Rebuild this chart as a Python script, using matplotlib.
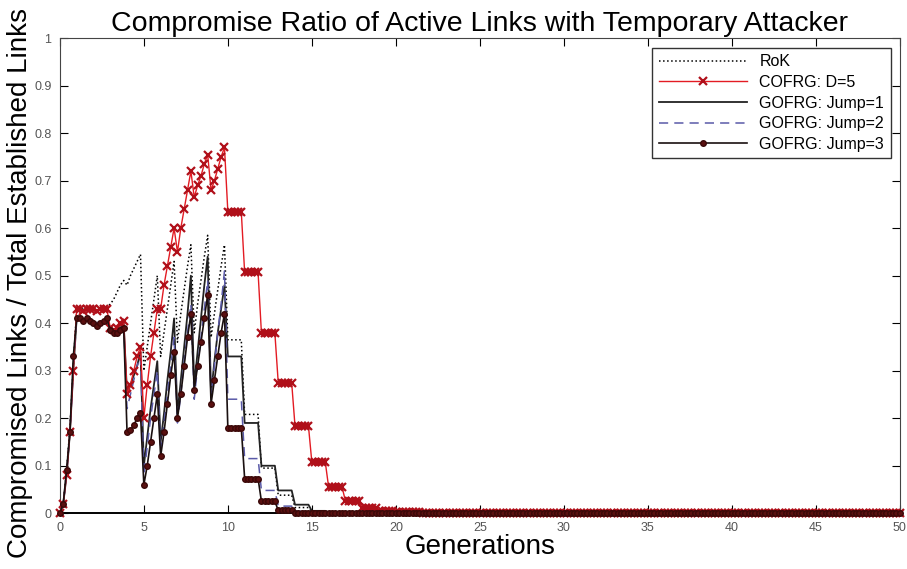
import numpy as np
import matplotlib.pyplot as plt

# one row per generation, samples every 0.2 generation (k.0, k.2, k.4, k.6, k.8)
step = 0.2
generations = np.round(np.arange(0, 50 + step / 2, step), 1)

rok = [
    [0.0, 0.02, 0.09, 0.18, 0.31],
    [0.43, 0.43, 0.43, 0.43, 0.43],
    [0.43, 0.43, 0.43, 0.43, 0.435],
    [0.44, 0.45, 0.465, 0.48, 0.49],
    [0.48, 0.50, 0.515, 0.53, 0.545],
    [0.30, 0.35, 0.40, 0.45, 0.50],
    [0.33, 0.38, 0.43, 0.48, 0.53],
    [0.36, 0.42, 0.47, 0.52, 0.565],
    [0.38, 0.44, 0.49, 0.54, 0.585],
    [0.37, 0.42, 0.47, 0.52, 0.565],
    [0.365, 0.365, 0.365, 0.365, 0.365],
    [0.208, 0.208, 0.208, 0.208, 0.208],
    [0.095, 0.095, 0.095, 0.095, 0.095],
    [0.038, 0.038, 0.038, 0.038, 0.038],
    [0.012, 0.012, 0.012, 0.012, 0.012],
    [0.003, 0.003, 0.003, 0.003, 0.003],
    [0.0, 0.0, 0.0, 0.0, 0.0],
    [0.0, 0.0, 0.0, 0.0, 0.0],
    [0.0, 0.0, 0.0, 0.0, 0.0],
    [0.0, 0.0, 0.0, 0.0, 0.0],
]

cofrg = [
    [0.0, 0.02, 0.08, 0.17, 0.30],
    [0.43, 0.43, 0.425, 0.43, 0.43],
    [0.43, 0.425, 0.43, 0.43, 0.43],
    [0.39, 0.385, 0.39, 0.40, 0.405],
    [0.25, 0.27, 0.30, 0.33, 0.35],
    [0.20, 0.27, 0.33, 0.38, 0.43],
    [0.43, 0.48, 0.52, 0.56, 0.60],
    [0.55, 0.60, 0.64, 0.68, 0.72],
    [0.665, 0.69, 0.71, 0.735, 0.755],
    [0.68, 0.70, 0.725, 0.75, 0.77],
    [0.635, 0.635, 0.635, 0.635, 0.635],
    [0.507, 0.507, 0.507, 0.507, 0.507],
    [0.379, 0.379, 0.379, 0.379, 0.379],
    [0.275, 0.275, 0.275, 0.275, 0.275],
    [0.183, 0.183, 0.183, 0.183, 0.183],
    [0.108, 0.108, 0.108, 0.108, 0.108],
    [0.055, 0.055, 0.055, 0.055, 0.055],
    [0.026, 0.026, 0.026, 0.026, 0.026],
    [0.012, 0.012, 0.012, 0.012, 0.012],
    [0.005, 0.005, 0.005, 0.005, 0.005],
]

jump1 = [
    [0.0, 0.02, 0.08, 0.17, 0.30],
    [0.41, 0.41, 0.405, 0.41, 0.41],
    [0.405, 0.40, 0.40, 0.405, 0.41],
    [0.385, 0.38, 0.385, 0.39, 0.40],
    [0.25, 0.27, 0.29, 0.31, 0.34],
    [0.10, 0.16, 0.22, 0.27, 0.32],
    [0.15, 0.21, 0.28, 0.34, 0.41],
    [0.21, 0.28, 0.35, 0.42, 0.50],
    [0.27, 0.34, 0.41, 0.48, 0.54],
    [0.25, 0.32, 0.38, 0.43, 0.48],
    [0.33, 0.33, 0.33, 0.33, 0.33],
    [0.19, 0.19, 0.19, 0.19, 0.19],
    [0.10, 0.10, 0.10, 0.10, 0.10],
    [0.048, 0.048, 0.048, 0.048, 0.048],
    [0.018, 0.018, 0.018, 0.018, 0.018],
    [0.005, 0.005, 0.005, 0.005, 0.005],
    [0.0, 0.0, 0.0, 0.0, 0.0],
    [0.0, 0.0, 0.0, 0.0, 0.0],
    [0.0, 0.0, 0.0, 0.0, 0.0],
    [0.0, 0.0, 0.0, 0.0, 0.0],
]

jump2 = [
    [0.0, 0.02, 0.08, 0.17, 0.30],
    [0.41, 0.41, 0.41, 0.405, 0.41],
    [0.40, 0.40, 0.405, 0.41, 0.41],
    [0.385, 0.38, 0.385, 0.39, 0.395],
    [0.22, 0.25, 0.28, 0.31, 0.33],
    [0.08, 0.14, 0.20, 0.25, 0.30],
    [0.13, 0.19, 0.25, 0.31, 0.37],
    [0.19, 0.25, 0.32, 0.38, 0.44],
    [0.24, 0.31, 0.37, 0.43, 0.49],
    [0.25, 0.31, 0.38, 0.44, 0.51],
    [0.24, 0.24, 0.24, 0.24, 0.24],
    [0.115, 0.115, 0.115, 0.115, 0.115],
    [0.048, 0.048, 0.048, 0.048, 0.048],
    [0.015, 0.015, 0.015, 0.015, 0.015],
    [0.004, 0.004, 0.004, 0.004, 0.004],
    [0.0, 0.0, 0.0, 0.0, 0.0],
    [0.0, 0.0, 0.0, 0.0, 0.0],
    [0.0, 0.0, 0.0, 0.0, 0.0],
    [0.0, 0.0, 0.0, 0.0, 0.0],
    [0.0, 0.0, 0.0, 0.0, 0.0],
]

jump3 = [
    [0.0, 0.02, 0.09, 0.17, 0.33],
    [0.41, 0.41, 0.405, 0.41, 0.405],
    [0.40, 0.395, 0.40, 0.405, 0.41],
    [0.385, 0.38, 0.38, 0.385, 0.39],
    [0.17, 0.175, 0.185, 0.20, 0.21],
    [0.06, 0.10, 0.15, 0.20, 0.25],
    [0.12, 0.17, 0.23, 0.29, 0.34],
    [0.20, 0.25, 0.31, 0.37, 0.42],
    [0.26, 0.31, 0.36, 0.41, 0.46],
    [0.23, 0.28, 0.33, 0.38, 0.42],
    [0.18, 0.18, 0.18, 0.18, 0.18],
    [0.073, 0.073, 0.073, 0.073, 0.073],
    [0.025, 0.025, 0.025, 0.025, 0.025],
    [0.006, 0.006, 0.006, 0.006, 0.006],
    [0.001, 0.001, 0.001, 0.001, 0.001],
    [0.0, 0.0, 0.0, 0.0, 0.0],
    [0.0, 0.0, 0.0, 0.0, 0.0],
    [0.0, 0.0, 0.0, 0.0, 0.0],
    [0.0, 0.0, 0.0, 0.0, 0.0],
    [0.0, 0.0, 0.0, 0.0, 0.0],
]

# values from generation 20.0 to 50.0 (151 samples)
cofrg_tail = [0.003, 0.003, 0.003, 0.002, 0.002, 0.002, 0.002, 0.002,
              0.001, 0.001, 0.001, 0.001, 0.001, 0.001, 0.001, 0.001] + [0.0] * 135
zero_tail = [0.0] * 151

x_ticks = [0, 5, 10, 15, 20, 25, 30, 35, 40, 45, 50]
y_ticks = [0, 0.1, 0.2, 0.3, 0.4, 0.5, 0.6, 0.7, 0.8, 0.9, 1]
y_tick_labels = ['0', '0.1', '0.2', '0.3', '0.4', '0.5', '0.6', '0.7', '0.8', '0.9', '1']


def series(rows, tail):
    return np.concatenate([np.ravel(rows), tail])


plt.rcParams['font.family'] = ['Liberation Sans', 'DejaVu Sans']

fig = plt.figure(figsize=(9.07, 5.69), dpi=100)
ax = fig.add_axes([0.066, 0.098, 0.926, 0.835])

ax.plot(generations, series(rok, zero_tail), ':', color='black', lw=1.1, label='RoK', zorder=2)
ax.plot(generations, series(cofrg, cofrg_tail), '-', color='#e31b23', lw=1.0,
        marker='x', ms=6, mew=1.6, mec='#b0101a', label='COFRG: D=5', zorder=3,
        clip_on=False)
ax.plot(generations, series(jump1, zero_tail), '-', color='#222222', lw=1.3,
        label='GOFRG: Jump=1', zorder=2)
ax.plot(generations, series(jump2, zero_tail), '--', color='#5a5aa8', lw=1.1,
        dashes=(6, 4), label='GOFRG: Jump=2', zorder=2)
ax.plot(generations, series(jump3, zero_tail), '-', color='#1a1010', lw=1.2,
        marker='o', ms=4, mfc='#5a1010', mec='#3a0808', label='GOFRG: Jump=3', zorder=4,
        clip_on=False)

ax.set_xlim(0, 50)
ax.set_ylim(0, 1)
ax.set_xticks(x_ticks)
ax.set_yticks(y_ticks)
ax.set_yticklabels(y_tick_labels)
ax.tick_params(direction='in', top=True, right=True, length=6, labelsize=9,
               labelcolor='#555555', width=0.8, pad=6)
for side in ['left', 'right', 'top']:
    ax.spines[side].set_linewidth(0.8)
    ax.spines[side].set_color('#444444')
ax.spines['bottom'].set_linewidth(1.4)

ax.set_title('Compromise Ratio of Active Links with Temporary Attacker',
             fontsize=20.5, pad=5)
ax.set_xlabel('Generations', fontsize=20, labelpad=0)
fig.text(0.022, 0.02, 'Compromised Links / Total Established Links', rotation=90,
         fontsize=20, ha='center', va='bottom')

leg = ax.legend(loc='upper right', bbox_to_anchor=(0.989, 0.979), borderaxespad=0,
                fontsize=11.5, handlelength=5.5, frameon=True, fancybox=False,
                edgecolor='black', labelspacing=0.35)
leg.get_frame().set_linewidth(1.0)

fig.savefig('out.png', dpi=100)
